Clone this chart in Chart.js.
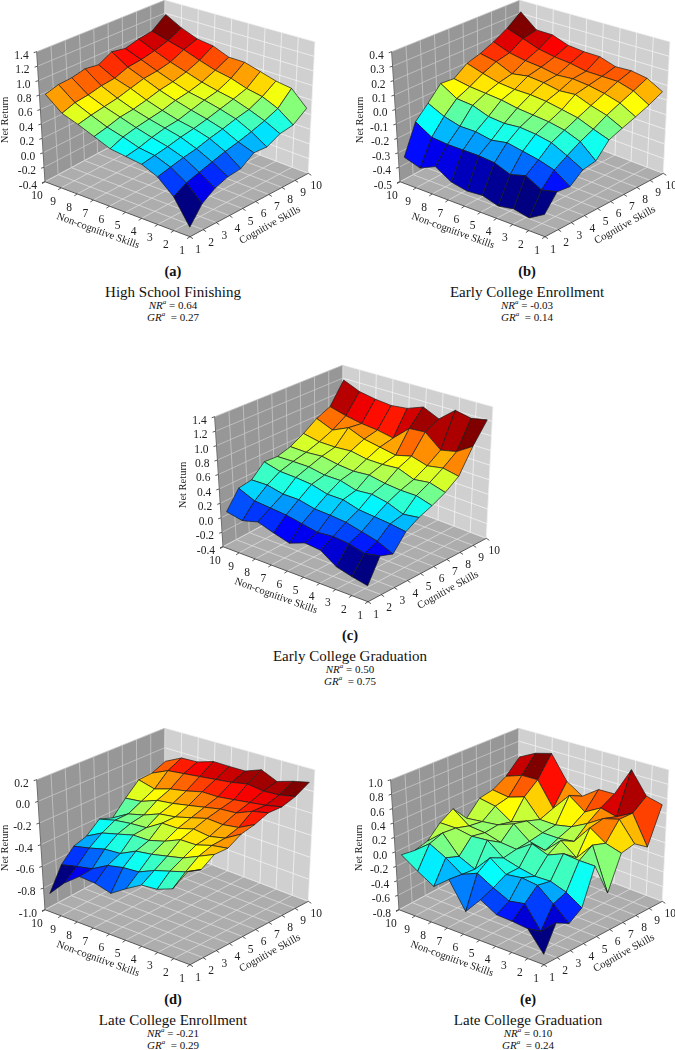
<!DOCTYPE html>
<html>
<head>
<meta charset="utf-8">
<title>Net return surfaces</title>
<script src="https://cdn.jsdelivr.net/npm/chart.js@4/dist/chart.umd.min.js"></script>
<style>
  html, body { margin: 0; padding: 0; background: #fff; }
  body { position: relative; width: 675px; height: 1050px; overflow: hidden; font-family: "Liberation Serif", serif; color: #111; }
  canvas { position: absolute; }
  .cap { position: absolute; transform: translateX(-50%); white-space: nowrap; line-height: 1; }
  .letter { font-size: 14.5px; font-weight: bold; }
  .name { font-size: 15px; }
  .stat { font-size: 11px; }
  .stat sup { font-size: 7px; line-height: 0; font-style: italic; }
</style>
</head>
<body>
<script>
var cogSkills = [1, 2, 3, 4, 5, 6, 7, 8, 9, 10];
var nonCogSkills = [1, 2, 3, 4, 5, 6, 7, 8, 9, 10];

// every row is one cognitive skill level, columns are non-cognitive 1..10
var highSchool = [
  [-0.28, 0.03, 0.21, 0.30, 0.33, 0.36, 0.45, 0.54, 0.62, 0.81],
  [-0.07, 0.12, 0.25, 0.33, 0.36, 0.43, 0.49, 0.58, 0.68, 0.86],
  [0.04, 0.17, 0.29, 0.36, 0.41, 0.47, 0.54, 0.61, 0.70, 0.87],
  [0.10, 0.22, 0.32, 0.40, 0.45, 0.50, 0.56, 0.64, 0.74, 0.91],
  [0.12, 0.27, 0.37, 0.43, 0.47, 0.53, 0.60, 0.69, 0.76, 0.88],
  [0.24, 0.31, 0.41, 0.47, 0.52, 0.58, 0.65, 0.74, 0.83, 0.98],
  [0.23, 0.36, 0.46, 0.52, 0.57, 0.61, 0.68, 0.76, 0.85, 0.94],
  [0.32, 0.42, 0.50, 0.57, 0.61, 0.66, 0.73, 0.80, 0.89, 0.99],
  [0.35, 0.50, 0.59, 0.63, 0.70, 0.74, 0.81, 0.89, 0.95, 1.02],
  [0.49, 0.69, 0.72, 0.78, 0.84, 0.84, 0.93, 0.96, 1.05, 1.18]
];
var earlyEnroll = [
  [-0.36, -0.42, -0.40, -0.42, -0.39, -0.40, -0.38, -0.315, -0.365, -0.33],
  [-0.26, -0.285, -0.23, -0.26, -0.22, -0.21, -0.21, -0.21, -0.20, -0.13],
  [-0.27, -0.20, -0.17, -0.15, -0.13, -0.15, -0.13, -0.13, -0.10, -0.045],
  [-0.205, -0.15, -0.10, -0.08, -0.07, -0.08, -0.07, -0.03, -0.02, 0.05],
  [-0.19, -0.10, -0.06, -0.04, -0.03, -0.02, 0.00, 0.01, 0.02, 0.04],
  [-0.095, -0.06, -0.02, 0.00, 0.02, 0.03, 0.03, 0.04, 0.07, 0.106],
  [-0.06, -0.01, 0.02, 0.06, 0.05, 0.07, 0.08, 0.06, 0.11, 0.133],
  [-0.027, 0.03, 0.06, 0.08, 0.09, 0.08, 0.10, 0.11, 0.13, 0.174],
  [0.01, 0.07, 0.10, 0.10, 0.10, 0.12, 0.13, 0.15, 0.19, 0.23],
  [0.058, 0.115, 0.132, 0.125, 0.16, 0.16, 0.17, 0.21, 0.21, 0.31]
];
var earlyGrad = [
  [-0.20, -0.16, -0.11, 0.03, 0.05, -0.03, 0.03, 0.10, 0.04, 0.085],
  [0.09, 0.05, 0.10, 0.12, 0.10, 0.14, 0.18, 0.20, 0.22, 0.32],
  [0.03, 0.12, 0.17, 0.22, 0.24, 0.25, 0.30, 0.30, 0.35, 0.345],
  [0.23, 0.26, 0.28, 0.30, 0.36, 0.36, 0.42, 0.44, 0.45, 0.51],
  [0.33, 0.30, 0.38, 0.42, 0.40, 0.46, 0.46, 0.50, 0.50, 0.495],
  [0.40, 0.46, 0.46, 0.48, 0.52, 0.50, 0.52, 0.56, 0.54, 0.545],
  [0.49, 0.55, 0.52, 0.60, 0.58, 0.58, 0.62, 0.60, 0.60, 0.645],
  [0.62, 0.66, 0.62, 0.68, 0.62, 0.66, 0.70, 0.79, 0.68, 0.775],
  [0.94, 0.80, 0.75, 0.93, 0.91, 0.70, 0.74, 0.76, 0.80, 0.86],
  [1.22, 1.175, 1.22, 1.03, 1.13, 1.04, 1.01, 1.03, 1.07, 1.17]
];
var lateEnroll = [
  [-0.22, -0.41, -0.46, -0.47, -0.55, -0.64, -0.60, -0.59, -0.70, -0.85],
  [-0.256, -0.32, -0.36, -0.40, -0.46, -0.47, -0.50, -0.58, -0.61, -0.646],
  [-0.18, -0.24, -0.30, -0.33, -0.36, -0.38, -0.45, -0.46, -0.50, -0.535],
  [-0.18, -0.20, -0.24, -0.24, -0.30, -0.34, -0.34, -0.38, -0.42, -0.50],
  [-0.11, -0.19, -0.22, -0.20, -0.24, -0.24, -0.33, -0.34, -0.36, -0.40],
  [-0.08, -0.15, -0.17, -0.16, -0.20, -0.24, -0.26, -0.32, -0.36, -0.45],
  [-0.03, -0.06, -0.12, -0.13, -0.16, -0.19, -0.22, -0.24, -0.30, -0.32],
  [-0.03, -0.06, -0.08, -0.10, -0.12, -0.12, -0.16, -0.19, -0.24, -0.20],
  [0.01, -0.02, -0.03, -0.01, -0.04, -0.06, -0.08, -0.10, -0.12, -0.195],
  [0.085, 0.05, 0.004, 0.068, 0.01, 0.008, 0.008, -0.044, -0.054, -0.138]
];
var lateGrad = [
  [-0.67, -0.42, -0.40, -0.39, -0.27, -0.50, -0.15, -0.32, -0.19, -0.04],
  [-0.36, -0.54, -0.26, -0.30, -0.20, -0.08, -0.17, -0.02, 0.10, -0.07],
  [-0.454, -0.276, -0.107, -0.08, -0.11, 0.04, -0.19, -0.09, 0.16, -0.03],
  [-0.34, -0.21, -0.14, -0.147, -0.107, -0.05, 0.12, 0.10, 0.14, 0.14],
  [0.118, 0.12, 0.14, 0.05, 0.13, -0.02, 0.00, 0.06, 0.08, 0.25],
  [-0.32, 0.24, 0.00, 0.16, -0.05, 0.00, 0.17, 0.08, 0.05, 0.02],
  [0.12, 0.18, 0.32, 0.06, 0.03, 0.03, 0.12, 0.03, 0.18, 0.22],
  [0.16, 0.42, 0.36, 0.22, 0.10, 0.05, 0.05, 0.30, 0.22, 0.25],
  [0.03, 0.42, 0.30, 0.35, 0.22, 0.38, 0.12, 0.46, 0.45, 0.36],
  [0.52, 0.57, 0.87, 0.46, 0.45, 0.28, 0.42, 0.76, 0.69, 0.56]
];

var ticksA = ['-0.4', '-0.2', '0.0', '0.2', '0.4', '0.6', '0.8', '1.0', '1.2', '1.4'];
var ticksB = ['-0.5', '-0.4', '-0.3', '-0.2', '-0.1', '0.0', '0.1', '0.2', '0.3', '0.4'];
var ticksC = ['-0.4', '-0.2', '0.0', '0.2', '0.4', '0.6', '0.8', '1.0', '1.2', '1.4'];
var ticksD = ['-1.0', '-0.8', '-0.6', '-0.4', '-0.2', '0.0', '0.2'];
var ticksE = ['-0.8', '-0.6', '-0.4', '-0.2', '0.0', '0.2', '0.4', '0.6', '0.8', '1.0'];

var panels = [
  {grid: highSchool, ticks: ticksA, left: 0, top: 0, letter: '(a)', name: 'High School Finishing', nr: '0.64', gr: '0.27', cx: 173, capTop: 264},
  {grid: earlyEnroll, ticks: ticksB, left: 355, top: 0, letter: '(b)', name: 'Early College Enrollment', nr: '-0.03', gr: '0.14', cx: 527, capTop: 264},
  {grid: earlyGrad, ticks: ticksC, left: 178, top: 365, letter: '(c)', name: 'Early College Graduation', nr: '0.50', gr: '0.75', cx: 350, capTop: 628},
  {grid: lateEnroll, ticks: ticksD, left: 0, top: 728, letter: '(d)', name: 'Late College Enrollment', nr: '-0.21', gr: '0.29', cx: 173, capTop: 992},
  {grid: lateGrad, ticks: ticksE, left: 354, top: 728, letter: '(e)', name: 'Late College Graduation', nr: '0.10', gr: '0.24', cx: 528, capTop: 992}
];

// corners of the box in chart pixels
var floorF = [190, 236.7], floorL = [45, 181.7], floorR = [308.3, 173.3], floorB = [163.3, 118.3];
var topF = [186.7, 93.3], topL = [36.7, 51.7], topR = [315, 41.7], topB = [165, 0];
var surfaceInset = 0.96;

function mix(a, b, c, d, u, v, k) {
  return (a[k] * (1 - u) + b[k] * u) * (1 - v) + (c[k] * (1 - u) + d[k] * u) * v;
}

// u runs along cognitive, v along non-cognitive, w is height in the box
function project(u, v, w) {
  var fx = mix(floorF, floorR, floorL, floorB, u, v, 0);
  var fy = mix(floorF, floorR, floorL, floorB, u, v, 1);
  var tx = mix(topF, topR, topL, topB, u, v, 0);
  var ty = mix(topF, topR, topL, topB, u, v, 1);
  return {x: fx + (tx - fx) * w, y: fy + (ty - fy) * w};
}

// the surface sits a little inside the walls
function projectSurface(u, v, w) {
  return {x: project(u * surfaceInset, v * surfaceInset, w).x, y: project(u, v, w).y};
}

function jet(t) {
  var r = Math.min(4 * t - 1.5, -4 * t + 4.5);
  var g = Math.min(4 * t - 0.5, -4 * t + 3.5);
  var b = Math.min(4 * t + 0.5, -4 * t + 2.5);
  function c(v) { return Math.round(255 * Math.max(0, Math.min(1, v))); }
  return 'rgb(' + c(r) + ',' + c(g) + ',' + c(b) + ')';
}

function poly(points, color) {
  return {data: points.concat([points[0]]), showLine: true, fill: 'shape', backgroundColor: color,
    borderColor: color, borderWidth: 0, pointRadius: 0, tension: 0};
}

function seg(a, b, color, width) {
  return {data: [a, b], showLine: true, fill: false, borderColor: color, borderWidth: width, pointRadius: 0, tension: 0};
}

function buildDatasets(p) {
  var sets = [];
  var n = p.ticks.length - 1;
  var zMin = parseFloat(p.ticks[0]), zMax = parseFloat(p.ticks[n]);
  function U(i) { return (cogSkills[i] - 1) / 9; }
  function V(j) { return (nonCogSkills[j] - 1) / 9; }
  function W(z) { return (z - zMin) / (zMax - zMin); }

  // surface, nearest cell first since chart.js paints the first dataset last
  var cells = [];
  var lo = Infinity, hi = -Infinity;
  for (var i = 0; i < 9; i++) {
    for (var j = 0; j < 9; j++) {
      var avg = (p.grid[i][j] + p.grid[i + 1][j] + p.grid[i + 1][j + 1] + p.grid[i][j + 1]) / 4;
      lo = Math.min(lo, avg);
      hi = Math.max(hi, avg);
      cells.push({i: i, j: j, avg: avg});
    }
  }
  cells.sort(function (a, b) { return (a.i + a.j) - (b.i + b.j); });
  cells.forEach(function (c) {
    var pts = [[c.i, c.j], [c.i + 1, c.j], [c.i + 1, c.j + 1], [c.i, c.j + 1]].map(function (q) {
      return projectSurface(U(q[0]), V(q[1]), W(p.grid[q[0]][q[1]]));
    });
    var ds = poly(pts, jet((c.avg - lo) / (hi - lo)));
    ds.borderColor = '#1a1a1a';
    ds.borderWidth = 0.7;
    sets.push(ds);
  });

  // axis edges and ticks
  var black = '#333';
  sets.push(seg(project(0, 0, 0), project(1, 0, 0), black, 0.8));
  sets.push(seg(project(0, 0, 0), project(0, 1, 0), black, 0.8));
  sets.push(seg(project(0, 1, 0), project(0, 1, 1), '#555', 0.8));
  cogSkills.forEach(function (c, k) {
    var a = project(U(k), 0, 0);
    sets.push(seg(a, {x: a.x + 3, y: a.y + 2}, black, 0.8));
  });
  nonCogSkills.forEach(function (c, k) {
    var a = project(0, V(k), 0);
    sets.push(seg(a, {x: a.x - 3, y: a.y + 2}, black, 0.8));
  });
  p.ticks.forEach(function (t, k) {
    var a = project(0, 1, k / n);
    sets.push(seg(a, {x: a.x - 3, y: a.y + 1}, black, 0.8));
  });

  // grid lines
  for (var k = 0; k < 10; k++) {
    sets.push(seg(project(U(k), 1, 0), project(U(k), 1, 1), '#c6c6c6', 0.8));
    sets.push(seg(project(1, V(k), 0), project(1, V(k), 1), '#f2f2f2', 0.8));
    sets.push(seg(project(U(k), 0, 0), project(U(k), 1, 0), '#dcdcdc', 0.8));
    sets.push(seg(project(0, V(k), 0), project(1, V(k), 0), '#dcdcdc', 0.8));
  }
  p.ticks.forEach(function (t, k) {
    sets.push(seg(project(0, 1, k / n), project(1, 1, k / n), '#c6c6c6', 0.8));
    sets.push(seg(project(1, 1, k / n), project(1, 0, k / n), '#f2f2f2', 0.8));
  });

  // the three walls of the box
  sets.push(poly([project(0, 1, 0), project(1, 1, 0), project(1, 1, 1), project(0, 1, 1)], '#979797'));
  sets.push(poly([project(1, 1, 0), project(1, 0, 0), project(1, 0, 1), project(1, 1, 1)], '#d0d0d0'));
  sets.push(poly([project(0, 0, 0), project(1, 0, 0), project(1, 1, 0), project(0, 1, 0)], '#adadad'));
  return sets;
}

// tick labels and axis titles go through the same scales as the surface
var labelPlugin = {
  id: 'boxLabels',
  afterDraw: function (chart) {
    var p = chart.options.plugins.boxLabels.panel;
    var ctx = chart.ctx, sx = chart.scales.x, sy = chart.scales.y;
    var n = p.ticks.length - 1;
    function put(text, pos, dx, dy, align, angle, font) {
      ctx.save();
      ctx.translate(sx.getPixelForValue(pos.x) + dx, sy.getPixelForValue(pos.y) + dy);
      ctx.rotate((angle || 0) * Math.PI / 180);
      ctx.textAlign = align;
      ctx.textBaseline = 'middle';
      ctx.font = font || '11.5px "Liberation Serif"';
      ctx.fillStyle = '#222';
      ctx.fillText(text, 0, 0);
      ctx.restore();
    }
    p.ticks.forEach(function (t, k) {
      put(t, project(0, 1, k / n), -8, 4, 'right');
    });
    cogSkills.forEach(function (c, k) {
      put(String(c), project(k / 9, 0, 0), 8, 13, 'center');
    });
    nonCogSkills.forEach(function (c, k) {
      put(String(c), project(0, k / 9, 0), -8, 14, 'center');
    });
    put('Net Return', {x: 5, y: 120}, 0, 0, 'center', -90, '10.5px "Liberation Serif"');
    put('Non-cognitive Skills', {x: 98, y: 231}, 0, 0, 'center', 20, '10.5px "Liberation Serif"');
    put('Cognitive Skills', {x: 270, y: 225}, 0, 0, 'center', -29, '10.5px "Liberation Serif"');
  }
};

panels.forEach(function (p) {
  var canvas = document.createElement('canvas');
  canvas.width = 325;
  canvas.height = 256;
  canvas.style.left = p.left + 'px';
  canvas.style.top = p.top + 'px';
  document.body.appendChild(canvas);

  new Chart(canvas, {
    type: 'scatter',
    data: {datasets: buildDatasets(p)},
    options: {
      responsive: false,
      animation: false,
      events: [],
      layout: {padding: 0},
      scales: {
        x: {type: 'linear', min: 0, max: 325, display: false},
        y: {type: 'linear', min: 0, max: 256, reverse: true, display: false}
      },
      plugins: {legend: {display: false}, tooltip: {enabled: false}, boxLabels: {panel: p}}
    },
    plugins: [labelPlugin]
  });

  var caps = [
    ['letter', p.letter, 0],
    ['name', p.name, 21],
    ['stat', '<i>NR</i><sup>a</sup> = ' + p.nr, 36],
    ['stat', '<i>GR</i><sup>a</sup> &nbsp;= ' + p.gr, 48]
  ];
  caps.forEach(function (c) {
    var d = document.createElement('div');
    d.className = 'cap ' + c[0];
    d.style.left = p.cx + 'px';
    d.style.top = (p.capTop + c[2]) + 'px';
    d.innerHTML = c[1];
    document.body.appendChild(d);
  });
});
</script>
</body>
</html>
